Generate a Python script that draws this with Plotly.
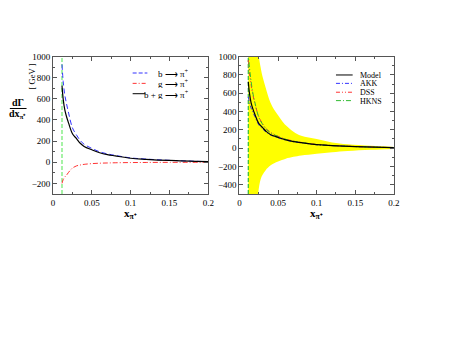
import plotly.graph_objects as go

W, H = 451, 349

# ---- data ----
x_cut = 0.0115  # lower x limit (green dashed line)

x_val = [0.0115, 0.013, 0.015, 0.017, 0.02, 0.025, 0.03, 0.035, 0.04, 0.05,
         0.06, 0.07, 0.08, 0.1, 0.12, 0.15, 0.2]
bg_val = [725, 600, 500, 440, 370, 270, 225, 180, 150, 118,
          90, 72, 60, 38, 28, 17, 5]
g_val = [-200, -165, -140, -125, -95, -55, -35, -26, -20, -13,
         -9, -7, -5, -3, -2, -1, -0.5]
b_val = [925, 765, 640, 565, 465, 325, 260, 206, 170, 131,
         99, 79, 65, 41, 30, 18, 5.5]

akk_val = [560, 500, 440, 400, 345, 255, 210, 172, 145, 114,
           88, 71, 59, 37, 27, 17, 5]
dss_val = [960, 820, 700, 600, 490, 345, 265, 210, 175, 130,
           98, 78, 63, 40, 29, 18, 5]
hkns_val = [1050, 880, 740, 620, 500, 340, 260, 205, 170, 127,
            96, 76, 62, 39, 28, 17, 5]

x_band = [0.0115, 0.015, 0.02, 0.024, 0.0275, 0.03, 0.034, 0.04, 0.045, 0.05,
          0.055, 0.06, 0.07, 0.08, 0.1, 0.12, 0.14, 0.17, 0.2]
band_hi = [5000, 3000, 1600, 1080, 880, 780, 660, 500, 420, 360,
           300, 250, 180, 135, 100, 62, 42, 25, 12]
band_lo = [-5000, -3000, -1500, -520, -340, -290, -240, -190, -165, -145,
           -130, -115, -95, -80, -60, -45, -32, -18, -8]

BLUE, RED, GREEN = "#3333FF", "#FF3333", "#33BB33"
FONT = "Liberation Serif"


def px(x):
    return x / W


def py(y):
    return 1 - y / H


fig = go.Figure()

# left panel
fig.add_trace(go.Scatter(x=[x_cut, x_cut], y=[-300, 1000], mode="lines",
                         line=dict(color="#88EE88", width=1.5, dash="4px,2px"),
                         xaxis="x", yaxis="y"))
fig.add_trace(go.Scatter(x=x_val, y=b_val, mode="lines", line_shape="spline",
                         line=dict(color=BLUE, width=1, dash="5px,3px"),
                         xaxis="x", yaxis="y"))
fig.add_trace(go.Scatter(x=x_val, y=g_val, mode="lines", line_shape="spline",
                         line=dict(color=RED, width=1, dash="5px,2px,1px,2px"),
                         xaxis="x", yaxis="y"))
fig.add_trace(go.Scatter(x=x_val, y=bg_val, mode="lines", line_shape="spline",
                         line=dict(color="black", width=1.2),
                         xaxis="x", yaxis="y"))

# right panel
fig.add_trace(go.Scatter(x=x_band, y=band_lo, mode="lines", line_shape="spline",
                         line=dict(color="yellow", width=0),
                         xaxis="x2", yaxis="y2"))
fig.add_trace(go.Scatter(x=x_band, y=band_hi, mode="lines", line_shape="spline",
                         line=dict(color="yellow", width=0), fill="tonexty",
                         fillcolor="#FFFF00", xaxis="x2", yaxis="y2"))
fig.add_trace(go.Scatter(x=[x_cut, x_cut], y=[-500, 1000], mode="lines",
                         line=dict(color=GREEN, width=1.2, dash="4px,2px"),
                         xaxis="x2", yaxis="y2"))
fig.add_trace(go.Scatter(x=x_val, y=akk_val, mode="lines", line_shape="spline",
                         line=dict(color=BLUE, width=1, dash="4px,2px,1px,2px"),
                         xaxis="x2", yaxis="y2"))
fig.add_trace(go.Scatter(x=x_val, y=dss_val, mode="lines", line_shape="spline",
                         line=dict(color=RED, width=1, dash="4px,2px,1px,2px,1px,2px"),
                         xaxis="x2", yaxis="y2"))
fig.add_trace(go.Scatter(x=x_val, y=hkns_val, mode="lines", line_shape="spline",
                         line=dict(color=GREEN, width=1, dash="5px,2px,1px,2px"),
                         xaxis="x2", yaxis="y2"))
fig.add_trace(go.Scatter(x=x_val, y=bg_val, mode="lines", line_shape="spline",
                         line=dict(color="black", width=1.2),
                         xaxis="x2", yaxis="y2"))

ax_common = dict(showline=True, linecolor="#555", linewidth=1, mirror="allticks",
                 ticks="inside", ticklen=4, tickcolor="#555", showgrid=False,
                 zeroline=False, tickfont=dict(family=FONT, size=9, color="black"))
xax = dict(ax_common, range=[0, 0.2], dtick=0.05, tick0=0,
           minor=dict(ticks="inside", ticklen=2, dtick=0.025, tickcolor="#555"))

fig.update_layout(
    width=W, height=H, margin=dict(l=0, r=0, t=0, b=0),
    paper_bgcolor="white", plot_bgcolor="white", showlegend=False,
    xaxis=dict(xax, domain=[px(52), px(210)], anchor="y"),
    yaxis=dict(ax_common, domain=[py(191.7), py(52.3)], range=[-300, 1000],
               dtick=200, anchor="x",
               minor=dict(ticks="inside", ticklen=2, dtick=100, tickcolor="#555")),
    xaxis2=dict(xax, domain=[px(241.7), px(399)], anchor="y2"),
    yaxis2=dict(ax_common, domain=[py(191.7), py(52.3)], range=[-500, 1000],
                dtick=200, anchor="x2",
                minor=dict(ticks="inside", ticklen=2, dtick=100, tickcolor="#555")),
)

ann = []
shapes = []


def text(x, y, s, size=9, anchor="center", angle=0, h=None):
    a = dict(x=px(x), y=py(y), xref="paper", yref="paper", text=s,
             showarrow=False, xanchor=anchor, yanchor="middle",
             textangle=angle, font=dict(family=FONT, size=size, color="black"))
    if h:
        a["height"] = h
    ann.append(a)


def sample(x0, x1, y, color, dash, width=1):
    shapes.append(dict(type="line", xref="paper", yref="paper",
                       x0=px(x0), x1=px(x1), y0=py(y), y1=py(y),
                       line=dict(color=color, width=width, dash=dash)))


# axis titles
text(131, 212, "<b>x<sub>π⁺</sub></b>", size=11)
text(320, 212, "<b>x<sub>π⁺</sub></b>", size=11)
text(16, 99, "<b>dΓ</b>", size=10)
shapes.append(dict(type="line", xref="paper", yref="paper", x0=px(8), x1=px(25),
                   y0=py(105), y1=py(105), line=dict(color="black", width=1)))
text(16, 111, "<b>dx<sub>π⁺</sub></b>", size=10)
text(31, 72, "[ GeV ]", size=8.5, angle=-90)

# left legend
sample(133, 148, 69, BLUE, "4px,2px")
sample(133, 148, 79.5, RED, "4px,2px,1px,2px")
sample(133, 146, 90, "black", "solid")
text(192, 69, "b ⟶ π<sup>+</sup>", size=9, anchor="right", h=10)
text(192, 79.5, "g ⟶ π<sup>+</sup>", size=9, anchor="right", h=10)
text(192, 90, "b + g ⟶ π<sup>+</sup>", size=9, anchor="right", h=10)

# right legend
sample(340, 357, 71, "black", "solid")
sample(340, 357, 79.5, BLUE, "4px,2px,1px,2px")
sample(340, 357, 88.5, RED, "4px,2px,1px,2px,1px,2px")
sample(340, 357, 97, GREEN, "5px,2px,1px,2px")
text(362, 71, "Model", size=8, anchor="left", h=8)
text(362, 79.5, "AKK", size=8, anchor="left", h=8)
text(362, 88.5, "DSS", size=8, anchor="left", h=8)
text(362, 97, "HKNS", size=8, anchor="left", h=8)

fig.update_layout(annotations=ann, shapes=shapes)
fig.write_html("out.html", config={"displayModeBar": False},
               post_script="document.body.style.margin='0';")
